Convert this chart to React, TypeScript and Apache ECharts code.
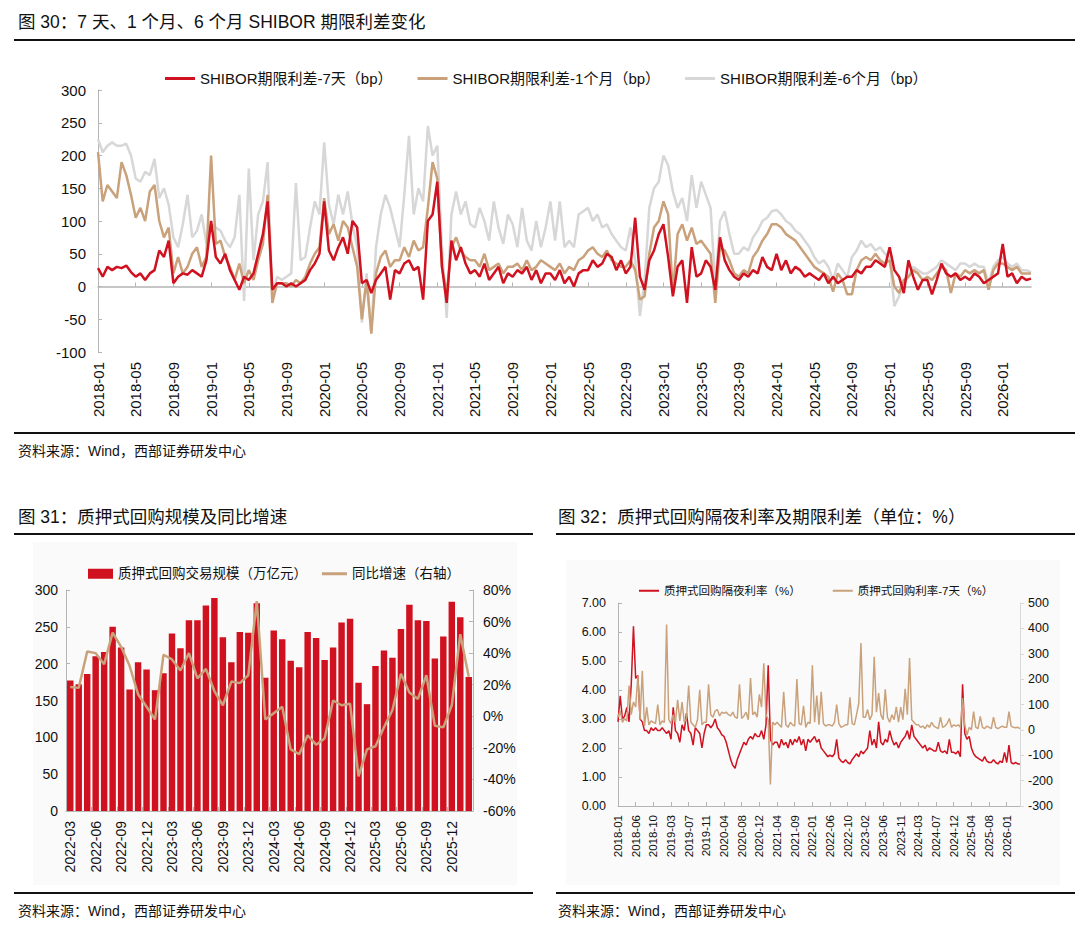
import React, { useEffect, useRef } from 'react';
import * as echarts from 'echarts';

// ---------------- Chart 30: SHIBOR term spreads (bp) ----------------
const shiborLabels = [
  '2018-01', '2018-05', '2018-09', '2019-01', '2019-05', '2019-09', '2020-01', '2020-05', '2020-09',
  '2021-01', '2021-05', '2021-09', '2022-01', '2022-05', '2022-09', '2023-01', '2023-05', '2023-09',
  '2024-01', '2024-05', '2024-09', '2025-01', '2025-05', '2025-09', '2026-01',
];
// 8 readings per 4-month label interval
const shibor7d = [
  28, 15, 30, 25, 30, 28, 32, 22,
  15, 20, 10, 20, 25, 55, 45, 70,
  5, 15, 20, 18, 25, 20, 15, 40,
  100, 45, 35, 50, 25, 10, -5, 15,
  10, 20, 50, 80, 130, -5, 5, 5,
  0, 5, 0, 5, 10, 25, 35, 50,
  130, 55, 40, 60, 75, 50, 100, 90,
  5, 10, -10, 10, 20, 30, -20, 25,
  20, 35, 40, 25, 30, -20, 100, 110,
  160, 30, -25, 70, 40, 60, 35, 20,
  25, 15, 35, 10, 20, 30, 5, 20,
  15, 25, 20, 30, 10, 25, 5, 20,
  20, 10, 25, 5, 15, 0, 20, 25,
  25, 40, 30, 35, 50, 45, 25, 40,
  20, 30, 105, 15, -5, 40, 55, 80,
  95, 45, -15, 30, 40, -25, 60, 15,
  20, 40, 30, -5, 75, 40, 25, 15,
  10, 20, 15, 25, 20, 45, 30, 25,
  50, 25, 40, 20, 30, 25, 15, 20,
  15, 10, 20, 5, 15, 5, 10, 15,
  15, 25, 20, 30, 30, 40, 35, 30,
  60, 25, 15, -10, 40, 15, -5, 10,
  10, -12, 10, 35, 20, 15, 20, 10,
  15, 10, 20, 15, 5, 10, 15, 20,
  65, 15, 20, 5, 15, 10, 12,
];
const shibor1m = [
  205, 130, 155, 145, 135, 190, 170, 140,
  105, 120, 100, 145, 155, 100, 75, 90,
  20, 45, 20, 30, 50, 60, 30, 45,
  200, 65, 70, 45, 30, 10, 35, 5,
  25, 10, 40, 65, 140, -25, 5, 5,
  5, 0, 10, 5, 15, 35, 50, 60,
  135, 80, 95, 70, 100, 90, 60, 30,
  -50, 10, -72, 20, 45, 55, 30, 40,
  40, 60, 45, 70, 55, 60, 120, 190,
  165, 30, -10, 60, 75, 55, 45, 40,
  40, 30, 50, 25, 30, 35, 20, 30,
  30, 35, 25, 40, 25, 30, 40, 35,
  30, 25, 35, 20, 30, 25, 40, 45,
  55, 60, 50, 45, 55, 40, 35, 30,
  30, 40, 25, -20, -15, 50, 90, 100,
  130, 110, -10, 80, 95, 70, 90, 65,
  70, 60, 50, -25, 60, 55, 40, 20,
  15, 25, 20, 45, 55, 70, 80, 95,
  95, 90, 80, 75, 70, 60, 50, 40,
  30, 25, 20, 15, -8, 20, 10, -12,
  -12, 25, 40, 45, 40, 50, 40, 35,
  40, 0, -10, 10, 15, 25, 20, 10,
  15, 10, 20, 30, 25, -10, 20, 15,
  25, 20, 25, 20, 25, -5, 25, 35,
  35, 30, 25, 30, 20, 20, 20,
];
const shibor6m = [
  225, 205, 215, 220, 215, 215, 218, 200,
  165, 160, 175, 170, 195, 135, 150, 125,
  75, 60, 95, 140, 75, 85, 110, 65,
  95, 90, 85, 70, 60, 75, 140, -22,
  180, 40, 110, 130, 190, -15, 15, 10,
  15, 20, 158, 40, 45, 90, 130, 110,
  220, 125, 95, 140, 110, 145, 95, 60,
  -55, 20, -70, 60, 110, 140, 120, 90,
  60, 140, 230, 110, 150, 130, 245, 200,
  215, 60, -48, 110, 145, 110, 130, 95,
  90, 120, 100, 70, 130, 90, 65, 110,
  95, 60, 120, 70, 55, 100, 60, 90,
  130, 70, 130, 60, 70, 60, 110, 115,
  120, 100, 110, 90, 95, 80, 70, 60,
  55, 90, 40, -45, 10, 120, 150, 160,
  200, 185, 145, 120, 135, 100, 170, 120,
  160, 140, 120, 0, 100, 115, 80, 50,
  50, 60, 55, 75, 85, 100, 105, 115,
  117, 110, 100, 95, 85, 80, 70, 60,
  45, 35, 40, 30, 10, 35, 25, 15,
  45, 55, 70, 60, 65, 55, 60, 50,
  45, -30, -15, 5, 15, 30, 25, 20,
  20, 25, 30, 40, 35, 30, 25, 35,
  35, 30, 35, 30, 30, 5, 30, 40,
  45, 35, 30, 35, 25, 25, 22,
];

// ---------------- Chart 31: pledged repo volume & YoY ----------------
const repoMonths = [
  '2022-03', '2022-04', '2022-05', '2022-06', '2022-07', '2022-08', '2022-09', '2022-10', '2022-11', '2022-12',
  '2023-01', '2023-02', '2023-03', '2023-04', '2023-05', '2023-06', '2023-07', '2023-08', '2023-09', '2023-10',
  '2023-11', '2023-12', '2024-01', '2024-02', '2024-03', '2024-04', '2024-05', '2024-06', '2024-07', '2024-08',
  '2024-09', '2024-10', '2024-11', '2024-12', '2025-01', '2025-02', '2025-03', '2025-04', '2025-05', '2025-06',
  '2025-07', '2025-08', '2025-09', '2025-10', '2025-11', '2025-12', '2026-01', '2026-02',
];
const repoVolume = [
  177, 172, 186, 210, 216, 250, 222, 165, 202, 192,
  164, 187, 241, 221, 259, 259, 279, 289, 236, 202,
  243, 242, 282, 181, 245, 233, 204, 195, 243, 235,
  205, 222, 256, 261, 174, 145, 197, 218, 208, 247,
  280, 259, 258, 207, 237, 284, 263, 182,
];
const repoYoY = [
  18.5, 18, 41, 40, 33, 53, 44, 32, 14, 6,
  -2, 39, 36, 29, 40, 24, 30, 16, 7, 22,
  21, 26, 73, -2, 2, 6, -21, -24, -12, -18,
  -14, 10, 7, 8, -38, -21, -19, -7, 4, 27,
  15, 11, 26, -6, -7, 7, 52, 25,
];

// ---------------- Chart 32: pledged repo overnight rate & 7d spread ----------------
const repoLabels = [
  '2018-01', '2018-06', '2018-10', '2019-03', '2019-07', '2019-11', '2020-04', '2020-08', '2020-12',
  '2021-04', '2021-09', '2022-01', '2022-06', '2022-10', '2023-02', '2023-06', '2023-11', '2024-03',
  '2024-07', '2024-12', '2025-04', '2025-08', '2026-01',
];
const repoOvernight = [
  2.9, 3.8, 3.0, 3.1, 3.4, 2.9, 4.2, 6.2,
  4.4, 4.5, 3.0, 2.9, 2.6, 2.6, 2.5, 2.7,
  2.6, 2.7, 2.6, 2.6, 2.7, 2.6, 2.5, 2.6,
  2.3, 3.4, 2.6, 2.5, 2.2, 2.8, 2.6, 3.2,
  2.6, 2.5, 2.1, 2.7, 2.6, 2.5, 2.0, 2.5,
  2.8, 2.8, 2.7, 2.8, 3.0, 2.7, 2.6, 2.45,
  2.4, 2.2, 1.9, 1.6, 1.4, 1.3, 1.6, 1.8,
  2.0, 2.2, 2.1, 2.3, 2.4, 2.3, 2.5, 2.4,
  2.4, 2.6, 2.3, 2.8, 4.85, 2.3, 2.1, 2.2,
  2.2, 2.0, 2.3, 2.1, 2.2, 2.0, 2.3, 2.1,
  2.3, 2.2, 2.4, 2.1, 2.3, 1.9, 2.3, 2.2,
  2.3, 2.4, 2.2, 2.3, 2.0, 1.9, 1.8, 1.7,
  1.75, 1.7, 1.8, 2.3, 1.65, 1.55, 1.5, 1.6,
  1.5, 1.45, 1.6, 1.7, 1.8, 1.7, 1.9, 1.8,
  1.9, 2.0, 2.6, 2.1, 2.3, 2.0, 2.9, 2.2,
  2.1, 2.3, 2.2, 2.6, 2.3, 2.1, 2.2, 2.0,
  2.2, 2.3, 2.4, 2.6, 2.3, 2.8, 2.4, 2.3,
  2.2, 2.1, 2.0, 2.1, 1.9, 2.0, 1.95, 1.9,
  1.9, 2.2, 1.9, 1.85, 1.9, 1.8, 2.3, 1.85,
  1.85, 1.8, 1.9, 1.7, 4.2, 2.5, 2.3, 2.4,
  2.0, 1.8, 1.7, 1.65, 1.6, 1.55, 1.7, 1.55,
  1.5, 1.5, 1.6, 1.5, 1.45, 1.55, 1.5, 1.85,
  1.5, 2.1, 1.5, 1.45, 1.5, 1.45, 1.45,
];
const repo7dSpread = [
  50, 75, 30, 45, 35, 175, 60, 110,
  90, 213, 40, 233, 15, 90, 20, 35,
  30, 25, 100, 20, 35, 30, 415, 40,
  25, 60, 30, 118, 35, 110, 30, 45,
  175, 30, 20, 10, 40, 158, 20, 30,
  30, 180, 60, 50, 75, 80, 55, 70,
  65, 70, 60, 55, 70, 50, 45, 180,
  45, 55, 70, 40, 204, 60, 70, 50,
  140, 90, 262, 60, 40, -215, 30, 20,
  30, 20, 10, 150, 20, 10, 30, 20,
  15, 200, 25, 20, 95, 10, 30, 25,
  255, 30, 135, 20, 150, 25, 15, 20,
  20, 15, 30, 100, 25, 10, 15, 20,
  20, 128, 25, 20, 60, 105, 342, 50,
  50, 80, 40, 60, 288, 70, 145, 60,
  40, 160, 50, 30, 60, 40, 91, 30,
  90, 40, 162, 60, 283, 40, 30, 20,
  20, 10, 15, 5, 20, 10, 30, 15,
  10, 5, 50, 10, 15, 25, 45, 10,
  20, 15, 20, 10, 125, 20, -20, 10,
  0, 72, 10, 5, 53, 10, 5, 15,
  10, 5, 50, 10, 5, 10, 15, 10,
  10, 72, 15, 10, 8, 10, 5,
];

const STEPS = 8;
function buildCategories(labels: string[], total: number): string[] {
  const out: string[] = [];
  for (let i = 0; i < total; i++) {
    const k = Math.floor(i / STEPS);
    const j = i % STEPS;
    out.push(j === 0 ? labels[k] : `${labels[k]}#${j}`);
  }
  return out;
}
const onLabel = (index: number) => index % STEPS === 0;

const FONT = "'Liberation Sans', Arial, 'Noto Sans CJK SC', sans-serif";
const RED = '#d0111f';
const TAN = '#c9a27c';
const GRAY = '#d7d7d7';
const AXIS = '#b4b4b4';

function buildOption() {
  const cat1 = buildCategories(shiborLabels, shibor7d.length);
  const cat3 = buildCategories(repoLabels, repoOvernight.length);

  const t = (x: number, y: number, text: string, size: number) => ({
    type: 'text', x, y, silent: true,
    style: { text, fontSize: size, fontFamily: FONT, fill: '#111', verticalAlign: 'middle' },
  });
  const hl = (x1: number, x2: number, y: number) => ({
    type: 'line', silent: true,
    shape: { x1, y1: y, x2, y2: y },
    style: { stroke: '#111', lineWidth: 2 },
  });

  const n7 = 'SHIBOR期限利差-7天（bp）';
  const n1 = 'SHIBOR期限利差-1个月（bp）';
  const n6 = 'SHIBOR期限利差-6个月（bp）';
  const nv = '质押式回购交易规模（万亿元）';
  const ny = '同比增速（右轴）';
  const no = '质押式回购隔夜利率（%）';
  const ns = '质押式回购利率-7天（%）';

  return {
    animation: false,
    backgroundColor: '#ffffff',
    textStyle: { fontFamily: FONT },
    graphic: [
      { type: 'rect', z: -10, silent: true, shape: { x: 33, y: 542, width: 484, height: 343 }, style: { fill: '#fafafa' } },
      { type: 'rect', z: -10, silent: true, shape: { x: 566, y: 560, width: 494, height: 325 }, style: { fill: '#fafafa' } },
      t(18, 22, '图 30：7 天、1 个月、6 个月 SHIBOR 期限利差变化', 17.5),
      hl(14, 1075, 40),
      hl(14, 1075, 433),
      t(18, 451, '资料来源：Wind，西部证券研发中心', 14),
      t(18, 517, '图 31：质押式回购规模及同比增速', 17.5),
      hl(14, 533, 534),
      t(558, 517, '图 32：质押式回购隔夜利率及期限利差（单位：%）', 17.5),
      hl(556, 1075, 534),
      hl(14, 533, 893),
      hl(556, 1075, 893),
      t(18, 911, '资料来源：Wind，西部证券研发中心', 14),
      t(558, 911, '资料来源：Wind，西部证券研发中心', 14),
    ],
    legend: [
      {
        left: 160, top: 66, itemWidth: 30, itemHeight: 3, itemGap: 25, icon: 'rect',
        data: [n7, n1, n6],
        textStyle: { fontSize: 15, color: '#111', fontFamily: FONT },
      },
      {
        left: 83, top: 562, itemWidth: 25, itemHeight: 10, icon: 'rect',
        data: [nv],
        textStyle: { fontSize: 13.5, color: '#111', fontFamily: FONT },
      },
      {
        left: 317, top: 562, itemWidth: 25, itemHeight: 3, icon: 'rect',
        data: [ny],
        textStyle: { fontSize: 13.5, color: '#111', fontFamily: FONT },
      },
      {
        left: 634, top: 580, itemWidth: 20, itemHeight: 2, itemGap: 32, icon: 'rect',
        data: [no, ns],
        textStyle: { fontSize: 11.5, color: '#111', fontFamily: FONT },
      },
    ],
    grid: [
      { left: 98, top: 90, width: 933, height: 262 },
      { left: 66, top: 590, width: 407, height: 221 },
      { left: 618, top: 603, width: 402, height: 203 },
    ],
    xAxis: [
      {
        gridIndex: 0, type: 'category', data: cat1, boundaryGap: false, position: 'bottom',
        axisLine: { onZero: true, lineStyle: { color: AXIS, width: 1.5 } },
        axisTick: { show: true, inside: true, length: 4, interval: onLabel, lineStyle: { color: AXIS } },
        axisLabel: { show: false },
        splitLine: { show: false },
      },
      {
        gridIndex: 0, type: 'category', data: cat1, boundaryGap: false, position: 'bottom',
        axisLine: { show: false, onZero: false },
        axisTick: { show: false },
        axisLabel: { interval: onLabel, rotate: 90, fontSize: 15, color: '#111', margin: 10, fontFamily: FONT },
        splitLine: { show: false },
      },
      {
        gridIndex: 1, type: 'category', data: repoMonths, boundaryGap: true,
        axisLine: { lineStyle: { color: AXIS } },
        axisTick: { show: true, inside: true, length: 4, interval: 2, lineStyle: { color: AXIS } },
        axisLabel: { interval: 2, rotate: 90, fontSize: 14, color: '#111', margin: 10, fontFamily: FONT },
      },
      {
        gridIndex: 2, type: 'category', data: cat3, boundaryGap: false,
        axisLine: { lineStyle: { color: AXIS } },
        axisTick: { show: true, inside: true, length: 4, interval: onLabel, lineStyle: { color: AXIS } },
        axisLabel: { interval: onLabel, rotate: 90, fontSize: 11.5, color: '#111', margin: 9, fontFamily: FONT },
      },
    ],
    yAxis: [
      {
        gridIndex: 0, type: 'value', min: -100, max: 300, interval: 50,
        axisLine: { show: true, lineStyle: { color: AXIS } },
        axisTick: { show: true, inside: true, length: 4, lineStyle: { color: AXIS } },
        axisLabel: { fontSize: 15, color: '#111', margin: 12, fontFamily: FONT },
        splitLine: { show: false },
      },
      {
        gridIndex: 1, type: 'value', min: 0, max: 300, interval: 50, position: 'left',
        axisLine: { show: true, lineStyle: { color: AXIS } },
        axisTick: { show: true, inside: true, length: 4, lineStyle: { color: AXIS } },
        axisLabel: { fontSize: 14, color: '#111', margin: 8, fontFamily: FONT },
        splitLine: { show: false },
      },
      {
        gridIndex: 1, type: 'value', min: -60, max: 80, interval: 20, position: 'right',
        axisLine: { show: true, lineStyle: { color: AXIS } },
        axisTick: { show: true, inside: true, length: 4, lineStyle: { color: AXIS } },
        axisLabel: { fontSize: 14, color: '#111', margin: 10, formatter: '{value}%', fontFamily: FONT },
        splitLine: { show: false },
      },
      {
        gridIndex: 2, type: 'value', min: 0, max: 7, interval: 1, position: 'left',
        axisLine: { show: true, lineStyle: { color: AXIS } },
        axisTick: { show: true, inside: true, length: 4, lineStyle: { color: AXIS } },
        axisLabel: { fontSize: 12.5, color: '#111', margin: 12, formatter: (v: number) => v.toFixed(2), fontFamily: FONT },
        splitLine: { show: false },
      },
      {
        gridIndex: 2, type: 'value', min: -300, max: 500, interval: 100, position: 'right',
        axisLine: { show: true, lineStyle: { color: '#d9d9d9' } },
        axisTick: { show: true, inside: false, length: 4, lineStyle: { color: '#d9d9d9' } },
        axisLabel: { fontSize: 12.5, color: '#111', margin: 8, fontFamily: FONT },
        splitLine: { show: false },
      },
    ],
    series: [
      {
        name: n6, type: 'line', xAxisIndex: 0, yAxisIndex: 0, data: shibor6m,
        symbol: 'none', lineStyle: { color: GRAY, width: 2.5 }, itemStyle: { color: GRAY },
      },
      {
        name: n1, type: 'line', xAxisIndex: 0, yAxisIndex: 0, data: shibor1m,
        symbol: 'none', lineStyle: { color: TAN, width: 2.5 }, itemStyle: { color: TAN },
      },
      {
        name: n7, type: 'line', xAxisIndex: 0, yAxisIndex: 0, data: shibor7d,
        symbol: 'none', lineStyle: { color: RED, width: 2.5 }, itemStyle: { color: RED },
      },
      {
        name: nv, type: 'bar', xAxisIndex: 2, yAxisIndex: 1, data: repoVolume,
        barCategoryGap: '24%', itemStyle: { color: RED },
      },
      {
        name: ny, type: 'line', xAxisIndex: 2, yAxisIndex: 2, data: repoYoY,
        symbol: 'none', lineStyle: { color: TAN, width: 2.5 }, itemStyle: { color: TAN },
      },
      {
        name: no, type: 'line', xAxisIndex: 3, yAxisIndex: 3, data: repoOvernight,
        symbol: 'none', lineStyle: { color: RED, width: 1.5 }, itemStyle: { color: RED },
      },
      {
        name: ns, type: 'line', xAxisIndex: 3, yAxisIndex: 4, data: repo7dSpread,
        symbol: 'none', lineStyle: { color: TAN, width: 1.5 }, itemStyle: { color: TAN },
      },
    ],
  };
}

export default function App() {
  const ref = useRef<HTMLDivElement>(null);
  useEffect(() => {
    if (!ref.current) return;
    const chart = echarts.init(ref.current, undefined, { renderer: 'svg' });
    chart.setOption(buildOption() as any);
    return () => chart.dispose();
  }, []);
  return (
    <div style={{ position: 'absolute', left: 0, top: 0, width: 1080, height: 929, background: '#fff' }}>
      <div ref={ref} style={{ width: 1080, height: 929 }} />
    </div>
  );
}
